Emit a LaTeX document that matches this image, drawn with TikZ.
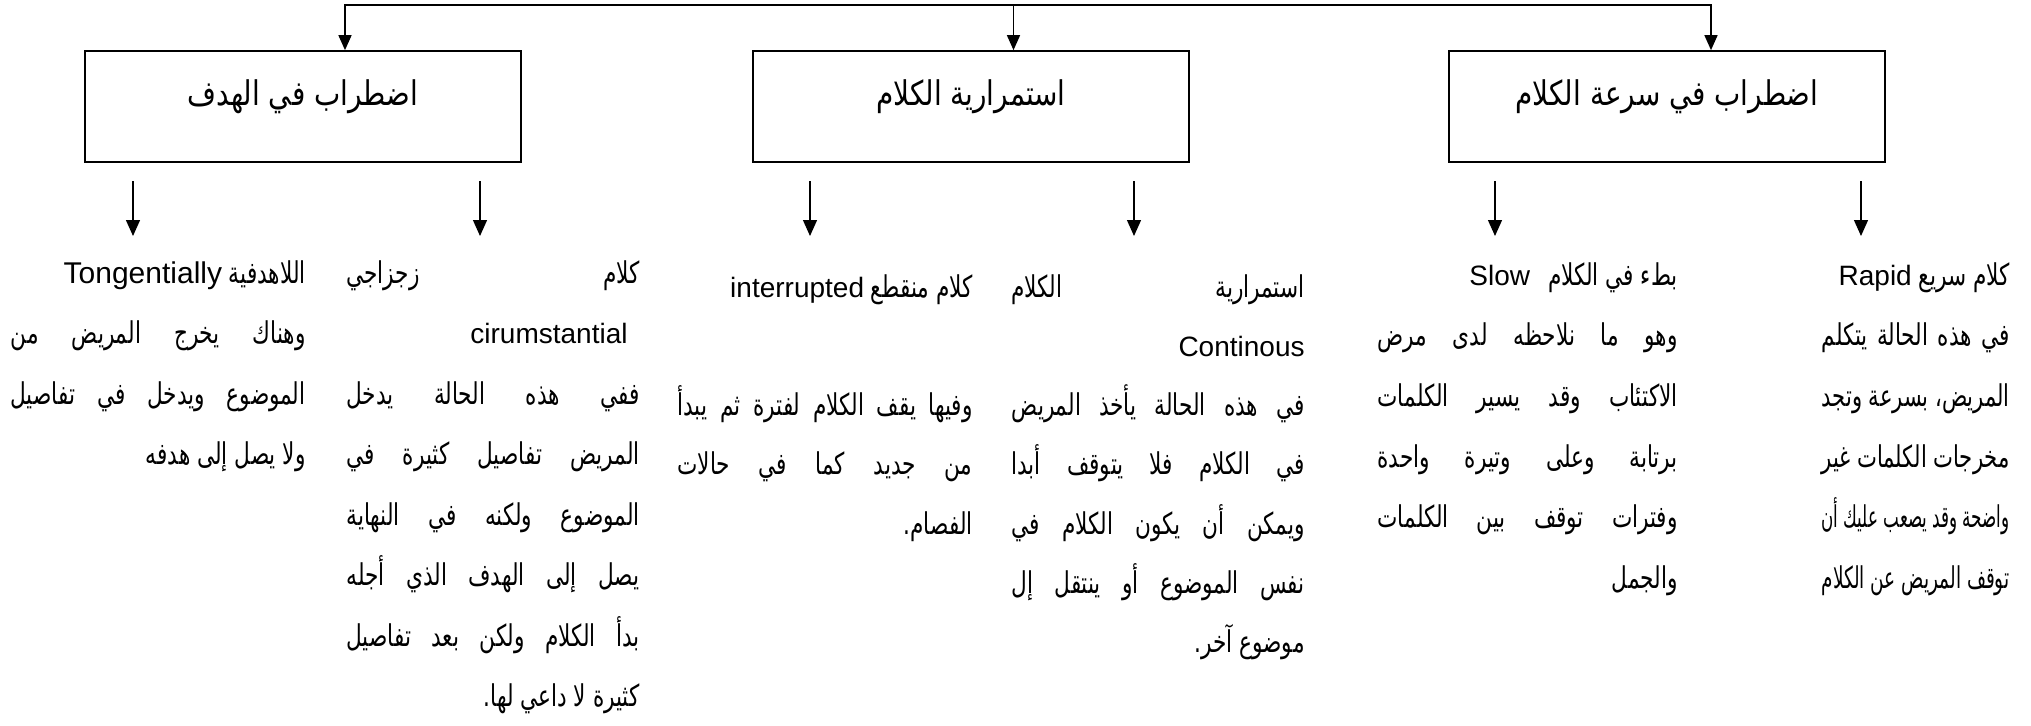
\documentclass[tikz,border=0pt]{standalone}
\usepackage{graphicx}
\usepackage{fontspec}
\setmainfont{Liberation Sans}
\newfontfamily\latinfont{Liberation Sans}
\newfontfamily\arabicfont[Script=Arabic,FakeStretch=0.72]{DejaVu Sans}
\newfontfamily\arabiclabelfont[Script=Arabic,FakeStretch=0.82]{DejaVu Sans}
\TeXXeTstate=1
\usetikzlibrary{arrows.meta}
\hbadness=10000
\hfuzz=100pt
\newsavebox\lnbox
\newcommand{\lat}[1]{{\latinfont\fontsize{14pt}{14pt}\selectfont #1}}
\newcommand{\latbig}[1]{{\latinfont\fontsize{15pt}{15pt}\selectfont #1}}
% justified line: stretched to the column width, squeezed if too long
\newcommand{\JLine}[1]{\sbox\lnbox{\beginR #1\endR}%
  \ifdim\wd\lnbox>\cw
    \hbox to \cw{\resizebox{\cw}{\height}{\usebox\lnbox}}%
  \else
    \hbox to \cw{\beginR #1\endR}%
  \fi}
% right-aligned line
\newcommand{\RLine}[1]{\sbox\lnbox{\beginR #1\endR}%
  \ifdim\wd\lnbox>\cw
    \hbox to \cw{\resizebox{\cw}{\height}{\usebox\lnbox}}%
  \else
    \hbox to \cw{\hfill\usebox\lnbox}%
  \fi}
\newcommand{\ELine}{\hbox to \cw{\strut}}
\newcommand{\colstack}[3]{\def\cw{#1}\vtop{\baselineskip=#2\lineskiplimit=-100pt #3}}
\begin{document}
\begin{tikzpicture}[x=0.5pt,y=-0.5pt,
  catbox/.style={draw, line width=0.85pt, minimum width=218pt, minimum height=55.5pt, inner sep=0pt},
  catlabel/.style={font=\arabiclabelfont\fontsize{17pt}{20pt}\selectfont, inner sep=0pt},
  coltext/.style={font=\arabicfont\fontsize{15pt}{18pt}\selectfont, inner sep=0pt, anchor=base east},
  arr/.style={line width=0.65pt, -{Triangle[length=8pt,width=7pt]}},
  arrs/.style={line width=0.75pt, {Triangle[length=7.5pt,width=6.5pt]}-{Triangle[length=7.5pt,width=6.5pt]}},
  arrm/.style={line width=0.75pt, -{Triangle[length=7.5pt,width=6.5pt]}}
]
\useasboundingbox (0,0) rectangle (2031,725);

% category boxes
\node[catbox] (bL) at (302.75,106.5) {};
\node[catbox] (bM) at (971,106.5) {};
\node[catbox] (bR) at (1667,106.5) {};
\node[catlabel, yshift=4.75pt] (tL) at (bL.center) {\beginR اضطراب في الهدف\endR};
\node[catlabel, yshift=4.75pt] (tM) at (bM.center) {\beginR استمرارية الكلام\endR};
\node[catlabel, yshift=4.75pt] (tR) at (bR.center) {\beginR اضطراب في سرعة الكلام\endR};

% top connector
\coordinate (jL) at (345,5);
\coordinate (jM) at (1013.5,5);
\coordinate (jR) at (1711,5);
\draw[arrs] (jL |- bL.north) -- (jL) -- (jR) -- (jR |- bR.north);
\draw[arrm] (jM) -- (jM |- bM.north);

% arrows under the boxes
\foreach \n/\x in {aF/133, aE/480, aD/810, aC/1134, aB/1495, aA/1861}{
  \coordinate (\n s) at (\x,181);
  \coordinate (\n e) at (\x,236);
}
\draw[arr] (aFs) -- (aFe);
\draw[arr] (aEs) -- (aEe);
\draw[arr] (aDs) -- (aDe);
\draw[arr] (aCs) -- (aCe);
\draw[arr] (aBs) -- (aBe);
\draw[arr] (aAs) -- (aAe);

% column A : Rapid
\node[coltext] (colA) at (2010,285) {\colstack{94pt}{30.35pt}{%
  \RLine{كلام سريع \lat{Rapid}}%
  \JLine{في هذه الحالة يتكلم}%
  \JLine{المريض، بسرعة وتجد}%
  \JLine{مخرجات الكلمات غير}%
  \JLine{واضحة وقد يصعب عليك أن}%
  \RLine{توقف المريض عن الكلام}}};

% column B : Slow
\node[coltext] (colB) at (1678,285) {\colstack{150pt}{30.35pt}{%
  \RLine{بطء في الكلام\hspace{0.6em}\lat{Slow}}%
  \JLine{وهو ما نلاحظه لدى مرض}%
  \JLine{الاكتئاب وقد يسير الكلمات}%
  \JLine{برتابة وعلى وتيرة واحدة}%
  \JLine{وفترات توقف بين الكلمات}%
  \RLine{والجمل}}};

% column C : Continous
\node[coltext] (colC) at (1305,297) {\colstack{146.5pt}{29.65pt}{%
  \JLine{استمرارية الكلام}%
  \hbox to \cw{\hfill\lat{Continous}}%
  \JLine{في هذه الحالة يأخذ المريض}%
  \JLine{في الكلام فلا يتوقف أبدا}%
  \JLine{ويمكن أن يكون الكلام في}%
  \JLine{نفس الموضوع أو ينتقل إل}%
  \RLine{موضوع آخر.}}};

% column D : interrupted
\node[coltext] (colD) at (973,297) {\colstack{147.5pt}{29.65pt}{%
  \RLine{كلام منقطع \lat{interrupted}}%
  \ELine
  \JLine{وفيها يقف الكلام لفترة ثم يبدأ}%
  \JLine{من جديد كما في حالات}%
  \RLine{الفصام.}}};

% column E : cirumstantial
\node[coltext] (colE) at (640,283) {\colstack{146.5pt}{30.25pt}{%
  \JLine{كلام زجزاجي}%
  \hbox to \cw{\hfill\lat{cirumstantial}\hspace{6pt}}%
  \JLine{ففي هذه الحالة يدخل}%
  \JLine{المريض تفاصيل كثيرة في}%
  \JLine{الموضوع ولكنه في النهاية}%
  \JLine{يصل إلى الهدف الذي أجله}%
  \JLine{بدأ الكلام ولكن بعد تفاصيل}%
  \RLine{كثيرة لا داعي لها.}}};

% column F : Tongentially
\node[coltext] (colF) at (306,283) {\colstack{147.5pt}{30.25pt}{%
  \RLine{اللاهدفية \latbig{Tongentially}}%
  \JLine{وهناك يخرج المريض من}%
  \JLine{الموضوع ويدخل في تفاصيل}%
  \RLine{ولا يصل إلى هدفه}}};
\end{tikzpicture}
\end{document}
